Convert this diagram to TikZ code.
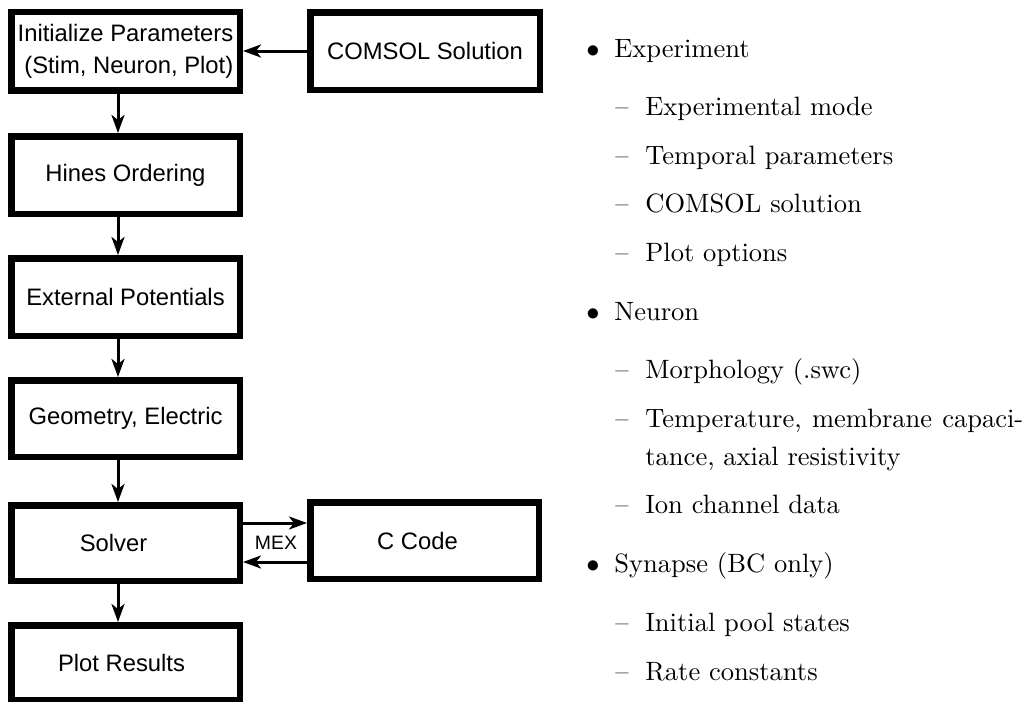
\documentclass[tikz,border=0pt]{standalone}
\usepackage{fontspec}
\newfontfamily\boxfont{Liberation Sans}
\usetikzlibrary{arrows.meta}
\begin{document}
\begin{tikzpicture}[x=0.5pt,y=-0.5pt,
  blk/.style={draw, line width=3.25pt, minimum width=114.25pt, inner sep=0pt,
    font=\boxfont\fontsize{11.9}{16}\selectfont, align=center},
  arr/.style={line width=1.5pt, -{Stealth[length=9pt,width=6.5pt,inset=2.5pt]}},
  lst/.style={anchor=base west, inner sep=0pt, font=\fontsize{10}{12}\selectfont},
]
\useasboundingbox (0,0) rectangle (1029,702);
% flow boxes
\node[blk, minimum height=39.25pt, align=right] (init) at (125.5,51) {Initialize Parameters\\(Stim, Neuron, Plot)};
\node[blk, minimum height=38.75pt, minimum width=114.75pt] (comsol) at (425,51) {COMSOL Solution};
\node[blk, minimum height=38.75pt] (hines) at (125.5,175) {Hines Ordering};
\node[blk, minimum height=38.75pt] (ext) at (125.5,297) {External Potentials};
\node[blk, minimum height=38.25pt] (geo) at (125.5,418.5) {Geometry, Electric};
\node[blk, minimum height=37.75pt] (solver) at (125.5,543) {\hspace*{-12pt}Solver};
\node[blk, minimum height=38.25pt] (ccode) at (424.5,540.5) {\hspace*{-7pt}C Code};
\node[blk, minimum height=37.25pt] (plot) at (125.5,662.5) {\hspace*{-4pt}Plot Results};
% connectors
\draw[arr] (comsol.west) -- (comsol.west -| init.east);
\draw[arr] ([xshift=-3.75pt]init.south) -- ([xshift=-3.75pt]hines.north);
\draw[arr] ([xshift=-3.75pt]hines.south) -- ([xshift=-3.75pt]ext.north);
\draw[arr] ([xshift=-3.75pt]ext.south) -- ([xshift=-3.75pt]geo.north);
\draw[arr] ([xshift=-3.75pt]geo.south) -- ([xshift=-3.75pt]solver.north);
\draw[arr] ([xshift=-3.75pt]solver.south) -- ([xshift=-3.75pt]plot.north);
\coordinate (m1) at ([yshift=10pt]solver.east);
\coordinate (m2) at ([yshift=-9.5pt]solver.east);
\draw[arr] (m1) -- (m1 -| ccode.west);
\draw[arr] (m2 -| ccode.west) -- (m2);
\node[font=\boxfont\fontsize{9.7}{11}\selectfont, inner sep=0pt] (mex) at (276,543) {MEX};
% list
\node[lst] (b1) at (586,57.3) {\scalebox{1.326}{$\bullet$}};
\node[lst] (t1) at (614,57.3) {\scalebox{1.326}{Experiment}};
\node[lst] (d11) at (615,115) {\scalebox{1.326}{\textendash}};
\node[lst] (t11) at (645,115) {\scalebox{1.326}{Experimental mode}};
\node[lst] (d12) at (615,164) {\scalebox{1.326}{\textendash}};
\node[lst] (t12) at (645,164) {\scalebox{1.326}{Temporal parameters}};
\node[lst] (d13) at (615,212.7) {\scalebox{1.326}{\textendash}};
\node[lst] (t13) at (645,212.7) {\scalebox{1.326}{COMSOL solution}};
\node[lst] (d14) at (615,261.7) {\scalebox{1.326}{\textendash}};
\node[lst] (t14) at (645,261.7) {\scalebox{1.326}{Plot options}};
\node[lst] (b2) at (586,320) {\scalebox{1.326}{$\bullet$}};
\node[lst] (t2) at (614,320) {\scalebox{1.326}{Neuron}};
\node[lst] (d21) at (615,378.3) {\scalebox{1.326}{\textendash}};
\node[lst] (t21) at (645,378.3) {\scalebox{1.326}{Morphology (.swc)}};
\node[lst] (d22) at (615,427.3) {\scalebox{1.326}{\textendash}};
\node[lst] (t22) at (645,427.3) {\scalebox{1.326}{\makebox[142.5pt][s]{Temperature, membrane capaci-}}};
\node[lst] (t22b) at (645,465) {\scalebox{1.326}{tance, axial resistivity}};
\node[lst] (d23) at (615,513.3) {\scalebox{1.326}{\textendash}};
\node[lst] (t23) at (645,513.3) {\scalebox{1.326}{Ion channel data}};
\node[lst] (b3) at (586,572.7) {\scalebox{1.326}{$\bullet$}};
\node[lst] (t3) at (614,572.7) {\scalebox{1.326}{Synapse (BC only)}};
\node[lst] (d31) at (615,631) {\scalebox{1.326}{\textendash}};
\node[lst] (t31) at (645,631) {\scalebox{1.326}{Initial pool states}};
\node[lst] (d32) at (615,680) {\scalebox{1.326}{\textendash}};
\node[lst] (t32) at (645,680) {\scalebox{1.326}{Rate constants}};
\end{tikzpicture}
\end{document}
